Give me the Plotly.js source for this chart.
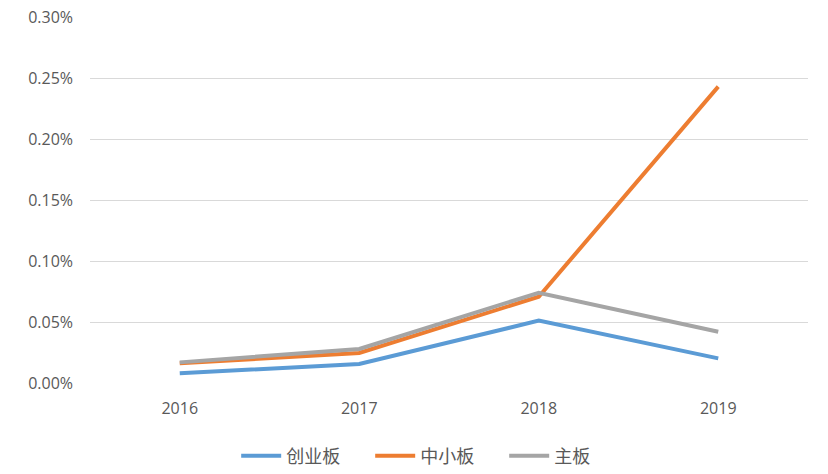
<!DOCTYPE html>
<html>
<head>
<meta charset="utf-8">
<script src="https://cdn.plot.ly/plotly-3.0.1.min.js"></script>
<style>html,body{margin:0;padding:0;background:#fff;}#chart{width:828px;height:474px;}</style>
</head>
<body>
<div id="chart"></div>
<script>
const years = ['2016', '2017', '2018', '2019'];
const chuangye = [0.00008, 0.000156, 0.000511, 0.000202];
const zhongxiao = [0.000161, 0.000246, 0.000707, 0.002429];
const zhuban = [0.000169, 0.000279, 0.000740, 0.000420];
const names = ['创业板', '中小板', '主板'];
const colors = ['#5B9BD5', '#ED7D31', '#A5A5A5'];

const series = [chuangye, zhongxiao, zhuban];
const traces = series.map((ys, i) => ({
  x: years, y: ys, name: names[i], type: 'scatter', mode: 'lines',
  line: {color: colors[i], width: 4}
}));

const layout = {
  width: 828, height: 474,
  margin: {l: 90, r: 20, t: 17, b: 91},
  paper_bgcolor: '#fff', plot_bgcolor: '#fff',
  font: {family: '"Open Sans", "Noto Sans CJK SC", sans-serif', color: '#595959', size: 16},
  xaxis: {
    type: 'category', range: [-0.5, 3.5], showgrid: false, zeroline: false,
    showline: false, ticks: '', ticklabelstandoff: 14,
    tickfont: {size: 16, color: '#595959'}
  },
  yaxis: {
    range: [0, 0.003], dtick: 0.0005, tickformat: '.2%', showgrid: true,
    gridcolor: '#D9D9D9', gridwidth: 1, zeroline: false, showline: false,
    ticks: '', ticklabelstandoff: 16, tickfont: {size: 16, color: '#595959'}
  },
  showlegend: true,
  legend: {orientation: 'h', x: 0.528, xanchor: 'center', xref: 'container',
    y: 0.038, yanchor: 'middle', yref: 'container',
    font: {family: '"Noto Sans CJK SC", sans-serif', size: 18, color: '#595959'},
    itemwidth: 40, entrywidth: 79, entrywidthmode: 'pixels', traceorder: 'normal'}
};
Plotly.newPlot('chart', traces, layout, {displayModeBar: false});
</script>
</body>
</html>
